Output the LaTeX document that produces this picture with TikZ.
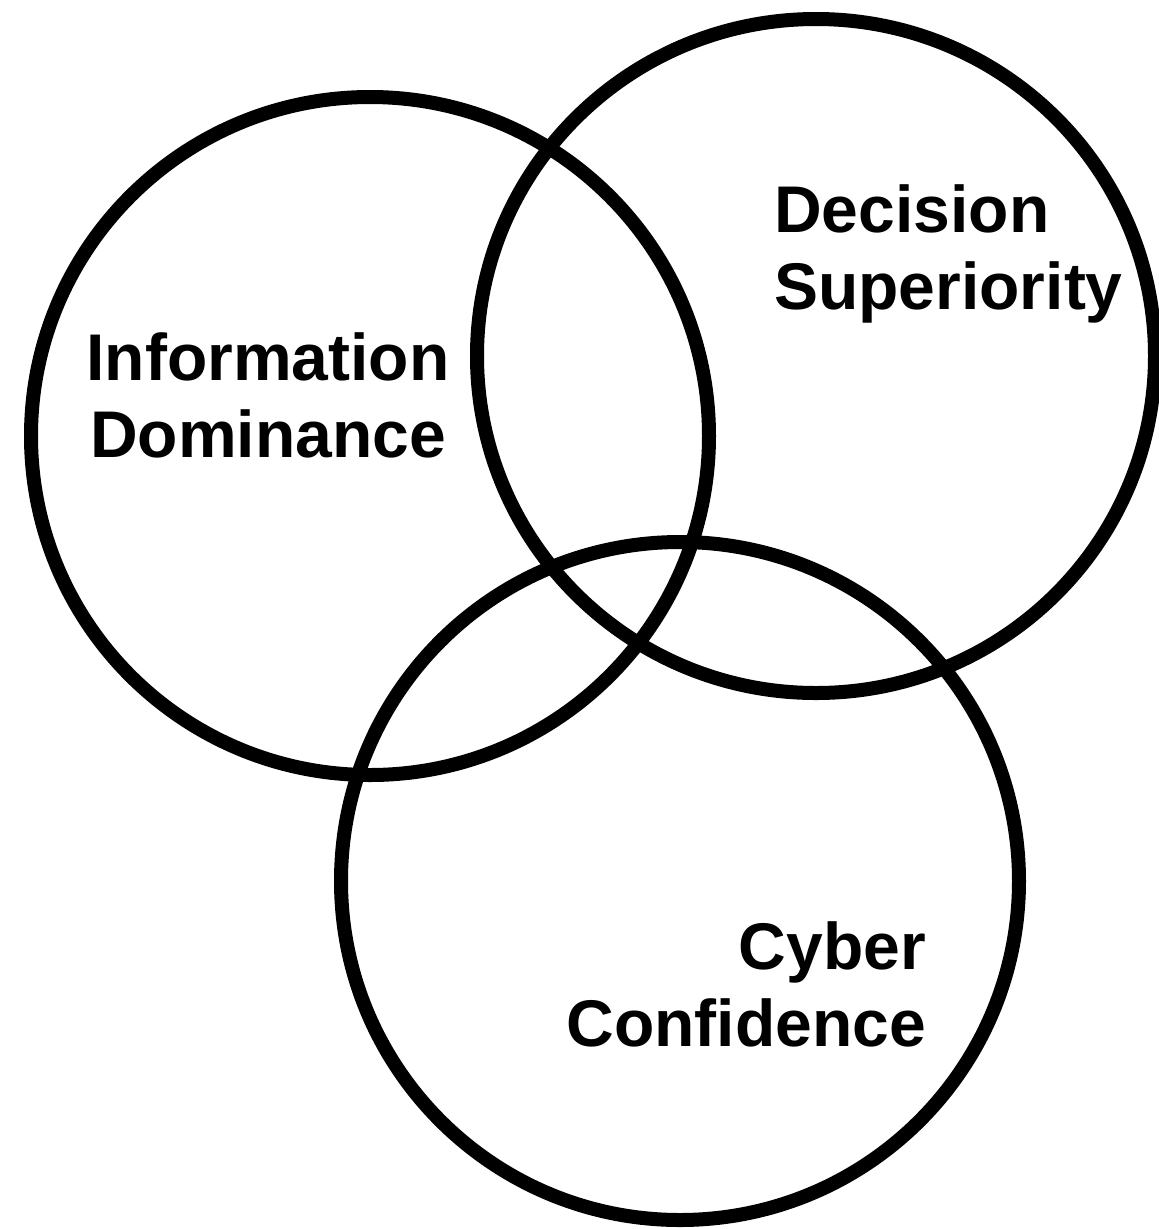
\documentclass[tikz,border=0pt]{standalone}
\usepackage{fontspec}
\setmainfont{Liberation Sans}
\begin{document}
\begin{tikzpicture}[x=0.75pt,y=-0.75pt,
  ring/.style={draw=black,line width=10.5pt},
  lbl/.style={inner sep=0pt,font=\fontsize{49.5}{57.75}\selectfont\bfseries}]
\useasboundingbox (0,0) rectangle (1158,1229);
\draw[ring] (370,436) circle[radius=339];
\draw[ring] (816,356) circle[x radius=339,y radius=337];
\draw[ring] (680,881) circle[radius=339];
\node[lbl,align=center] (info) at (268,395) {Information\\Dominance};
\node[lbl,align=left,anchor=west] (dec) at (774,254) {Decision\\Superiority};
\node[lbl,align=right,anchor=east] (cyb) at (926,984) {Cyber\\Confidence};
\end{tikzpicture}
\end{document}
